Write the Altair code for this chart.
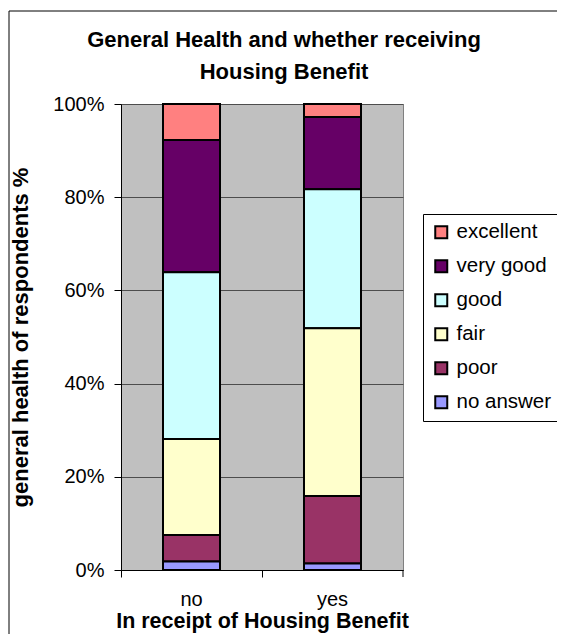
import altair as alt
import pandas as pd

benefit = ["no", "yes"]
health = ["excellent", "very good", "good", "fair", "poor", "no answer"]
no_vals = [7.7, 28.4, 35.8, 20.6, 5.7, 1.8]
yes_vals = [2.8, 15.5, 29.8, 36.0, 14.5, 1.4]
colors = ["#FF8080", "#660066", "#CCFFFF", "#FFFFCC", "#993366", "#9999FF"]
y_ticks = [0, 0.2, 0.4, 0.6, 0.8, 1.0]
title_lines = ["General Health and whether receiving", "Housing Benefit"]

rows = []
for b, vals in zip(benefit, [no_vals, yes_vals]):
    for i, (h, v) in enumerate(zip(health, vals)):
        rows.append({"benefit": b, "health": h, "pct": v / 100.0, "order": len(health) - i})
df = pd.DataFrame(rows)
one = pd.DataFrame({"k": [0]})

FONT = "Liberation Sans"
xscale = alt.Scale(domain=benefit, paddingInner=0, paddingOuter=0)

bars = alt.Chart(df).mark_bar(size=57, stroke="black", strokeWidth=2).encode(
    x=alt.X(
        "benefit:N",
        sort=benefit,
        scale=xscale,
        axis=alt.Axis(
            orient="bottom",
            title="In receipt of Housing Benefit",
            titleFont=FONT, titleFontSize=21.5, titleFontWeight="bold", titleColor="black",
            titlePadding=1,
            labelFont=FONT, labelFontSize=20, labelColor="black", labelAngle=0,
            labelPadding=19, ticks=False, tickSize=0, grid=False,
            domain=True, domainColor="black", domainWidth=1,
        ),
    ),
    y=alt.Y(
        "pct:Q",
        stack="zero",
        scale=alt.Scale(domain=[0, 1], nice=False),
        axis=alt.Axis(
            values=y_ticks, format="%",
            title="general health of respondents %",
            titleFont=FONT, titleFontSize=22, titleFontWeight="bold", titleColor="black",
            titlePadding=20,
            labelFont=FONT, labelFontSize=20, labelColor="black", labelPadding=10,
            tickSize=7, tickColor="black", domainColor="black", domainWidth=1,
            grid=True, gridColor="#4d4d4d", gridWidth=1,
        ),
    ),
    color=alt.Color(
        "health:N",
        scale=alt.Scale(domain=health, range=colors),
        legend=alt.Legend(
            title=None, orient="none", legendX=302, legendY=110,
            strokeColor="black", fillColor="white", padding=8,
            symbolType="square", symbolSize=144, symbolStrokeColor="black",
            symbolStrokeWidth=2, symbolOpacity=1,
            labelFont=FONT, labelFontSize=20.5, labelColor="black", labelOffset=5,
            rowPadding=13,
        ),
    ),
    order=alt.Order("order:Q", sort="ascending"),
)

ticks_layer = alt.Chart(df).mark_point(opacity=0).encode(
    x=alt.X(
        "benefit:N",
        sort=benefit,
        scale=xscale,
        axis=alt.Axis(
            orient="bottom",
            title=None, labels=False, ticks=True, tickSize=7, tickColor="black",
            bandPosition=0, domain=False, grid=False,
        ),
    ),
)

end_tick = alt.Chart(one).mark_rule(color="black", strokeWidth=1).encode(
    x=alt.value(282), y=alt.value(466), y2=alt.value(473)
)

title_text = alt.Chart(one).mark_text(
    font=FONT, fontSize=22, fontWeight="bold", color="black",
    align="center", baseline="top", lineHeight=31.5,
).encode(
    x=alt.value(163), y=alt.value(-74), text=alt.value(title_lines)
)

frame = alt.Chart(one).mark_rect(fillOpacity=0, stroke="black", strokeWidth=1).encode(
    x=alt.value(-112), x2=alt.value(700), y=alt.value(-93), y2=alt.value(800)
)

chart = alt.layer(bars, ticks_layer, end_tick, title_text, frame).resolve_axis(x="independent").properties(
    width=282,
    height=466,
    autosize=alt.AutoSizeParams(type="none"),
    padding={"left": 113, "top": 96, "right": 154, "bottom": 64},
    background="white",
).configure_view(fill="#C0C0C0", stroke="#808080", strokeWidth=1)

chart.save("out.html", embed_options={"renderer": "svg", "actions": False})
